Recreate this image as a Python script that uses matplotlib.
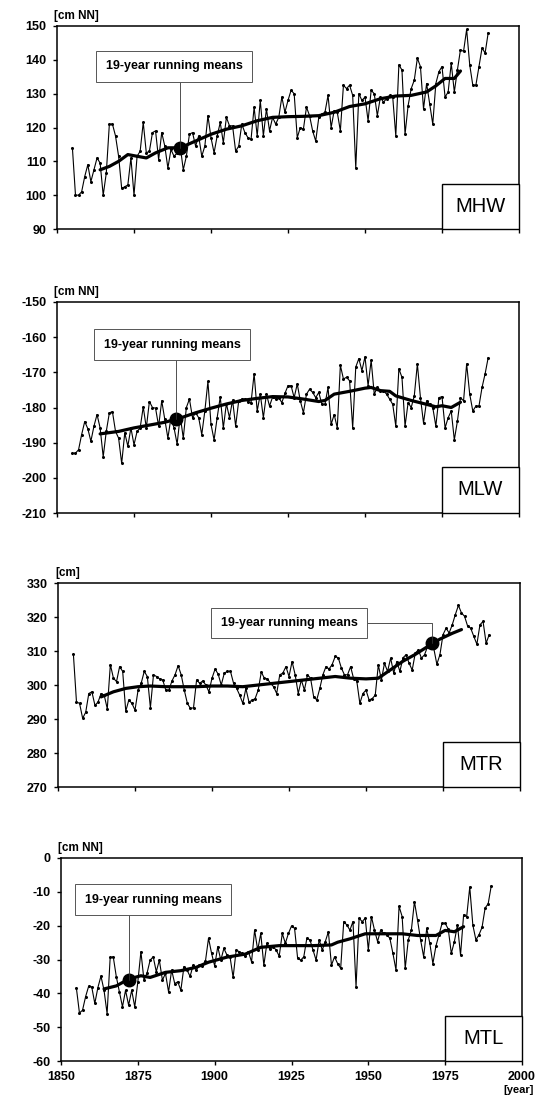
import numpy as np
import matplotlib
matplotlib.use("Agg")
import matplotlib.pyplot as plt
from matplotlib.patches import Rectangle

plt.rcParams['font.family'] = ['Liberation Sans', 'DejaVu Sans']

# annual values 1855-1990
years = np.arange(1855, 1991)

mhw = [114, 100, 100, 101, 105.5, 109, 104, 107.5, 111, 109.5,
       100, 106.5, 121, 121, 117.5, 111.5, 102, 102.5, 103, 111,
       100, 111.5, 113, 121.5, 112.5, 113, 118.5, 119, 110.5, 118.5,
       114.5, 108, 113.5, 111.5, 112.5, 114.5, 107.5, 111.5, 118, 118.5,
       114.5, 117.5, 111.5, 114.5, 123.5, 117, 112.5, 117.5, 121.5, 115.5,
       123, 120.5, 120.5, 113, 114.5, 121, 118.5, 117, 116.5, 126,
       117.5, 128, 117.5, 125.5, 119, 123, 121, 123, 129, 124.5,
       128, 131, 130, 117, 120, 119.5, 126, 123.5, 119, 116,
       123, 124, 124.5, 129.5, 120, 125, 124.5, 119, 132.5, 131.5,
       132.5, 129.5, 108, 130, 128, 129, 122, 131, 130, 123.5,
       129, 127.5, 128.5, 129.5, 129, 117.5, 138.5, 137, 118, 126.5,
       131.5, 134, 140.5, 138, 125.5, 133, 127, 121, 133, 136.5,
       138, 129, 130.5, 139, 130.5, 137, 143, 142.5, 149, 138.5,
       132.5, 132.5, 138, 143.5, 142, 148]

mlw = [-193, -193, -192, -187.7, -184, -186, -189.6, -185.3, -182, -185.8,
       -194, -186.8, -181.5, -181.2, -186.8, -188.7, -195.9, -187.2, -191, -185.8,
       -190.6, -186.8, -185.8, -179.8, -185.8, -178.3, -180, -180.2, -185.3, -178.1,
       -183.4, -188.7, -182.9, -185.8, -190.4, -182.4, -188.7, -180, -177.6, -182.9,
       -181.5, -182.9, -187.7, -181, -172.6, -184.8, -189.2, -182.9, -177, -185.8,
       -178.9, -182.9, -177.9, -185.3, -178.1, -177.6, -177.6, -178.3, -178.6, -170.4,
       -181, -176.2, -182.9, -176.2, -179.6, -177, -177.6, -177.2, -178.6, -176,
       -173.8, -173.8, -177.2, -173.3, -178.1, -181.5, -176.2, -174.8, -175.7, -177.2,
       -175.7, -179.1, -179.1, -174.3, -184.8, -182, -185.8, -168, -171.9, -171.4,
       -172.4, -185.8, -168.5, -166.1, -169.5, -165.6, -173.8, -166.6, -176.2, -174.3,
       -175.2, -175.2, -176.2, -177.6, -179.1, -185.3, -169, -171.4, -185.3, -178.6,
       -180, -176.7, -167.6, -177.2, -184.4, -178.1, -179.1, -180, -185.3, -177.2,
       -176.9, -185.8, -182.9, -181, -189.2, -183.9, -177.2, -178.1, -167.6, -176.2,
       -181, -179.6, -179.6, -174.3, -170.4, -165.8]

mtr = [309, 295, 294.6, 290.2, 292, 297.5, 298, 294, 295, 297.5,
       297, 293, 306, 302, 301, 305.4, 304, 292.3, 295.6, 294.6,
       292.6, 298.5, 300.5, 304, 302.5, 293.3, 303, 302.5, 301.8, 301.5,
       298.5, 298.5, 301.2, 303, 305.7, 303, 298.5, 294.6, 293.1, 293.3,
       301.5, 300.5, 301.2, 300, 298, 302, 304.7, 303.2, 300, 303.5,
       304, 304, 300.5, 299, 297, 294.6, 299, 295, 295.5, 296,
       298.5, 303.8, 302, 301.8, 300.5, 299.5, 297.5,
       303, 303.5, 305.4, 302.5, 306.9, 303, 297.5, 301.5,
       298.5, 303, 302, 296.6, 295.6, 299, 303, 305.4, 304.7, 306,
       308.4, 308, 305, 303, 303, 305.4, 301.8, 301.2, 294.6, 297.5,
       298.5, 295.6, 296, 297, 305.9, 301.5, 306.4, 304, 307.9, 303.5,
       306.9, 304, 308, 308.9, 306.4, 304.4, 309.4, 310.3, 307.9, 308.9,
       311.3, 311.3, 310.8, 306.1, 308.9, 314.8, 316.7, 315.3, 317.7, 320.7,
       323.4, 321.2, 320.2, 317.3, 316.7, 314.3, 312, 317.7, 318.7, 312.3,
       314.8]

mtl = [-38.4, -45.8, -45, -41, -37.9, -38.1, -43, -38.3, -34.9, -39.1,
       -46, -29.4, -29.2, -35.1, -39.6, -44, -39.1, -43.5, -39.1, -44,
       -36.6, -27.7, -36.1, -34, -30.2, -29.2, -33.6, -30.2, -36.1, -34.1,
       -39.6, -33.1, -37.1, -36.6, -39.1, -32.1, -33.1, -35, -31.7, -33.1,
       -31.7, -31.9, -30.5, -23.7, -28.2, -31.9, -26.2, -30.2, -26.7, -28.7,
       -29.2, -35.3, -27.2, -27.7, -28.2, -29, -27.7, -30.7, -21.3, -27.2,
       -22.3, -31.7, -25.2, -27, -26.2,
       -27.2, -29, -22.3, -25.2, -22.3, -20.1, -20.8, -29.7, -30.2, -29.2,
       -23.7, -24.2, -27.2, -30.2, -24.2, -27.2, -24.7, -21.8, -31.7, -29.2,
       -31.2, -32.6, -18.8, -19.8, -21.3, -18.8, -38.1, -17.8, -18.8, -17.8,
       -27.2, -17.3, -21.3, -24.7, -21.3, -22.3, -22.7, -23.7, -28.2, -33.1,
       -14.3, -17.3, -32.6, -24.2, -21.3, -12.9, -18.3, -24.2, -29.2, -20.8,
       -25.2, -31.2, -26, -22.7, -19.3, -19.3, -21, -28.2, -24.7, -19.8,
       -28.7, -16.8, -17.3, -8.6, -19.8, -24.2, -22.7, -20.5, -14.8, -13.5,
       -8.2]

# 19-year running means
mhw_mean_yr = [1864, 1867, 1870, 1873, 1876, 1879, 1882, 1886, 1890, 1895, 1900, 1905,
               1910, 1915, 1920, 1925, 1930, 1935, 1940, 1945, 1950, 1955, 1960, 1965,
               1970, 1973, 1976, 1979, 1981]
mhw_mean = [107.5, 108.5, 110, 112, 111.5, 111, 112.5, 114, 114, 116, 118, 119.5,
            120.5, 122, 123, 123.2, 123.3, 123.5, 124.5, 126.2, 127, 128.5, 129.3, 129.5,
            130.5, 132.3, 134.5, 134.5, 136.7]

mlw_mean_yr = [1864, 1870, 1875, 1880, 1885, 1890, 1895, 1900, 1905, 1910, 1915, 1920,
               1925, 1930, 1935, 1937, 1940, 1945, 1950, 1952, 1955, 1958, 1960, 1965,
               1970, 1973, 1975, 1978, 1981]
mlw_mean = [-187.5, -186.8, -185.8, -185, -184.2, -183, -181.5, -180.2, -179, -178, -177.4, -176.9,
            -177, -177.6, -178.3, -178, -176.2, -175.4, -174.5, -174.3, -175.2, -175.4, -176.7, -178,
            -179.1, -179.8, -179.5, -180, -178.5]

mtr_mean_yr = [1864, 1868, 1872, 1876, 1880, 1885, 1890, 1895, 1900, 1905, 1910, 1915,
               1920, 1925, 1930, 1935, 1940, 1945, 1950, 1954, 1958, 1962, 1966, 1970,
               1974, 1978, 1981]
mtr_mean = [296.5, 298, 299, 299.5, 299.7, 299.5, 299.5, 299.5, 299.7, 299.7, 299.5, 300,
            300.5, 301, 301.5, 302, 302.5, 302, 301.8, 302, 304.5, 307, 309, 311.3,
            313.5, 315.2, 316.3]

mtl_mean_yr = [1864, 1868, 1872, 1876, 1879, 1884, 1889, 1894, 1898, 1904, 1910, 1915,
               1921, 1927, 1932, 1938, 1940, 1944, 1949, 1955, 1961, 1966, 1972, 1975,
               1978, 1981]
mtl_mean = [-38.7, -37.8, -35.8, -34.8, -35.3, -33.8, -33.3, -32.3, -30.8, -29.3, -28.4, -26.4,
            -25.9, -25.9, -25.9, -25.7, -24.9, -23.9, -22.4, -22.4, -22.4, -22.9, -22.9, -21.4,
            -21.8, -20.3]

W, H = 546, 1099
fig = plt.figure(figsize=(W / 100, H / 100), dpi=100)
fig.patch.set_facecolor('white')

panels = [
    # frame px (l, t, r, b), data, mean, ylim, unit, name, dot, label centre
    dict(px=(57, 26, 519, 229), y=mhw, my=mhw_mean_yr, mv=mhw_mean, ylim=(90, 150),
         unit='[cm NN]', name='MHW', dot=(1890, 114), lab=(1888, 138.1)),
    dict(px=(57, 302, 519, 513), y=mlw, my=mlw_mean_yr, mv=mlw_mean, ylim=(-210, -150),
         unit='[cm NN]', name='MLW', dot=(1888.5, -183.2), lab=(1887.4, -162.1)),
    dict(px=(58, 583, 520, 787), y=mtr, my=mtr_mean_yr, mv=mtr_mean, ylim=(270, 330),
         unit='[cm]', name='MTR', dot=(1971.3, 312.3), lab=(1925, 318.2)),
    dict(px=(61, 858, 522, 1061), y=mtl, my=mtl_mean_yr, mv=mtl_mean, ylim=(-60, 0),
         unit='[cm NN]', name='MTL', dot=(1872, -36.2), lab=(1880, -12.3)),
]

axes = []
for i, p in enumerate(panels):
    l, t, r, b = p['px']
    ax = fig.add_axes([l / W, 1 - b / H, (r - l) / W, (b - t) / H])
    axes.append(ax)

    ax.plot(years, p['y'], color='black', lw=0.8, marker='o', ms=1.2, zorder=2)
    ax.plot(p['my'], p['mv'], color='black', lw=2.3, solid_capstyle='round', zorder=3)
    ax.plot([p['dot'][0]], [p['dot'][1]], 'o', color='black', ms=9, zorder=4)

    ax.annotate('19-year running means', xy=p['dot'], xytext=p['lab'],
                ha='center', va='center', fontsize=9, fontweight='bold',
                bbox=dict(boxstyle='square,pad=0.75', fc='white', ec='#555555', lw=0.7),
                arrowprops=dict(arrowstyle='-', lw=0.6, color='#333333',
                                connectionstyle='angle,angleA=0,angleB=90',
                                shrinkA=0, shrinkB=0),
                zorder=5)

    # name box in the lower right corner
    tr = ax.get_xaxis_transform()
    ax.add_patch(Rectangle((1975, 0), 25, 0.22, transform=tr, fc='white',
                           ec='black', lw=1.0, clip_on=False, zorder=5))
    ax.text(1987.5, 0.11, p['name'], transform=tr, ha='center', va='center',
            fontsize=14.5, zorder=6)

    ax.set_xlim(1850, 2000)
    ax.set_ylim(*p['ylim'])
    lo, hi = p['ylim']
    yt = list(range(lo, hi + 1, 10))
    ax.set_yticks(yt)
    ax.set_yticklabels([str(v) for v in yt])
    ax.set_xticks(range(1850, 2001, 25))
    if i < 3:
        ax.set_xticklabels([])
    for s in ax.spines.values():
        s.set_linewidth(1.1)
    ax.tick_params(direction='out', length=3, width=1, labelsize=9, pad=4.5)
    for lab in ax.get_yticklabels() + ax.get_xticklabels():
        lab.set_fontweight('bold')

    ax.annotate(p['unit'], xy=(0, 1), xycoords='axes fraction', xytext=(-3, 10),
                textcoords='offset pixels', ha='left', va='center',
                fontsize=8.5, fontweight='bold')

axes[-1].annotate('[year]', xy=(1, 0), xycoords='axes fraction', xytext=(-3, -29),
                  textcoords='offset pixels', ha='center', va='center',
                  fontsize=8, fontweight='bold')

fig.savefig('out.png', dpi=100)
